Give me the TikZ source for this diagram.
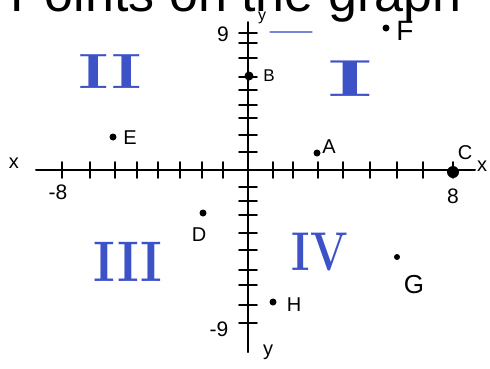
\documentclass[tikz,border=0pt]{standalone}
\usepackage{fontspec}
\setsansfont{Liberation Sans}
\definecolor{qblue}{RGB}{62,82,200}
\begin{document}
\begin{tikzpicture}[x=1pt,y=-1pt,line cap=round,
  axis/.style={line width=2pt},
  tickmark/.style={line width=1.7pt},
  dotpt/.style={circle,fill=black,inner sep=0pt,minimum size=7pt},
  lbl/.style={font=\sffamily\fontsize{20}{20}\selectfont,inner sep=0pt},
  numlbl/.style={font=\sffamily\fontsize{21}{21}\selectfont,inner sep=0pt},
  quad/.style={text=qblue,inner sep=0pt,font=\bfseries\fontsize{52}{52}\selectfont}]
\useasboundingbox (0,0) rectangle (490,368);
\begin{scope}
  \clip (0,0) rectangle (490,368);
  \node[anchor=base west,inner sep=0pt,font=\sffamily\fontsize{52}{52}\selectfont] (title) at (10,11) {Points on the graph};
\end{scope}
% axes
\coordinate (xl) at (36,170); \coordinate (xr) at (475,170);
\coordinate (yt) at (248,22); \coordinate (yb) at (248,352);
\draw[axis] (xl) -- (xr);
\draw[axis] (yt) -- (yb);
% x ticks
\foreach \x in {62,90,115,137,158,180,202,223,273,293,318,343,370,397,423,453}
  \draw[tickmark] (\x,162) -- (\x,178);
% y ticks
\foreach \y in {33,43,58,77,90,105,118,135,152,187,201,215,233,250,270,285,305,323}
  \draw[tickmark] (239,\y) -- (257,\y);
% axis labels
\node[lbl] (xleft) at (14,163) {x};
\node[lbl] (xright) at (482,166) {x};
\node[lbl,font=\sffamily\fontsize{16}{16}\selectfont] (ytop) at (262,18) {y};
\node[lbl] (ybot) at (268,352) {y};
\node[numlbl] (m8) at (58,192) {-8};
\node[numlbl] (p8) at (453,196) {8};
\node[numlbl] (p9) at (223,34) {9};
\node[numlbl] (m9) at (219,329) {-9};
% quadrant numerals
\node[quad] (q2) at (110,72) {\scalebox{1.4}[0.95]{II}};
\node[quad] (q1) at (350,79) {\scalebox{2.1}[1]{I}};
\node[quad] (q3) at (128,262) {\scalebox{1.0}[1.1]{III}};
\node[quad] (q4) at (320,252) {\scalebox{0.85}[1.05]{IV}};
\draw[qblue!70,line width=1.2pt] (270,32) -- (312,32);
% points
\node[dotpt] (F) at (386,28) {}; \node[lbl,font=\sffamily\fontsize{28}{28}\selectfont] (Fl) at (405,31) {F};
\node[dotpt,minimum size=9pt] (B) at (249,76) {}; \node[lbl,font=\sffamily\fontsize{17}{17}\selectfont] (Bl) at (269,76) {B};
\node[dotpt] (E) at (113,137) {}; \node[lbl] (El) at (130,138) {E};
\node[dotpt] (A) at (317,153) {}; \node[lbl] (Al) at (329,147) {A};
\node[dotpt,minimum size=12pt] (C) at (453,172) {}; \node[lbl] (Cl) at (465,153) {C};
\node[dotpt] (D) at (203,213) {}; \node[lbl] (Dl) at (199,235) {D};
\node[dotpt] (H) at (273,302) {}; \node[lbl] (Hl) at (294,305) {H};
\node[dotpt,minimum size=6pt] (G) at (397,257) {}; \node[lbl,font=\sffamily\fontsize{26}{26}\selectfont] (Gl) at (414,285) {G};
\end{tikzpicture}
\end{document}
